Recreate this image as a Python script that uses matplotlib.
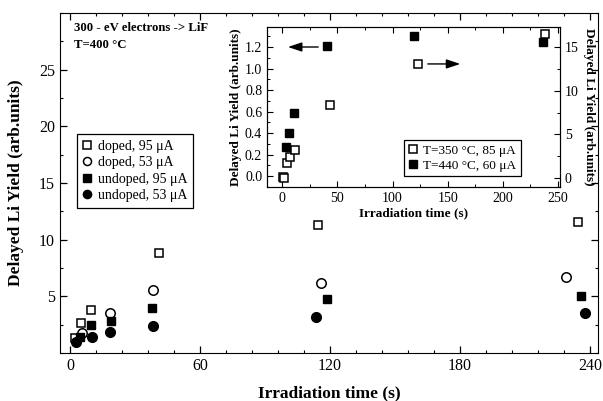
import numpy as np
import matplotlib
matplotlib.use("Agg")
import matplotlib.pyplot as plt
from matplotlib.ticker import MultipleLocator

plt.rcParams["font.family"] = ["Liberation Serif", "DejaVu Serif"]

# Main panel data (T=400 °C)
t_doped95 = [2.5, 5, 9.5, 41, 114.5, 234.5]
y_doped95 = [1.35, 2.67, 3.80, 8.85, 11.3, 11.6]
t_doped53 = [5.5, 18.5, 38.5, 116, 229]
y_doped53 = [1.74, 3.56, 5.56, 6.2, 6.68]
t_undoped95 = [4.5, 9.5, 19, 38, 118.5, 236]
y_undoped95 = [1.39, 2.47, 2.85, 3.95, 4.77, 5.06]
t_undoped53 = [3, 10, 18.5, 38.5, 113.5, 237.5]
y_undoped53 = [1.0, 1.44, 1.83, 2.38, 3.2, 3.56]

# Inset data
t_440 = [3.3, 6, 10.3, 40.5, 119, 236.7]
y_440 = [0.27, 0.40, 0.59, 1.21, 1.30, 1.25]      # left axis
t_350 = [0.3, 1.8, 4.2, 7.2, 11.2, 43.5, 123.5, 238]
y_350 = [0.15, 0.03, 1.75, 2.37, 3.2, 8.36, 13.06, 16.5]  # right axis

W, H = 603, 401
fig = plt.figure(figsize=(W / 100, H / 100), dpi=100)

def box(x0, y0, x1, y1):
    # pixel box -> figure fraction
    return [x0 / W, 1 - y1 / H, (x1 - x0) / W, (y1 - y0) / H]

ax = fig.add_axes(box(60, 13, 598, 353))
ms = 6.2
ax.plot(t_doped95, y_doped95, ls="none", marker="s", ms=ms, mfc="white", mec="k", mew=1.1, label="doped, 95 \u03bcA")
ax.plot(t_doped53, y_doped53, ls="none", marker="o", ms=ms + 0.6, mfc="white", mec="k", mew=1.1, label="doped, 53 \u03bcA")
ax.plot(t_undoped95, y_undoped95, ls="none", marker="s", ms=ms, mfc="k", mec="k", label="undoped, 95 \u03bcA")
ax.plot(t_undoped53, y_undoped53, ls="none", marker="o", ms=ms + 0.8, mfc="k", mec="k", label="undoped, 53 \u03bcA")

ax.set_xlim(-4.6, 243.7)
ax.set_ylim(0, 30)
ax.set_xticks([0, 60, 120, 180, 240])
ax.xaxis.set_minor_locator(MultipleLocator(12))
ax.set_yticks([5, 10, 15, 20, 25])
ax.yaxis.set_minor_locator(MultipleLocator(2.5))
ax.tick_params(which="both", direction="in", top=True, right=True, labelsize=11.5)
ax.tick_params(which="major", length=5, width=0.9)
ax.tick_params(which="minor", length=2.5, width=0.8)
ax.set_xlabel("Irradiation time (s)", fontsize=12.5, fontweight="bold", labelpad=8)
ax.set_ylabel("Delayed Li Yield (arb.units)", fontsize=12.5, fontweight="bold", labelpad=11)

ax.text(74 / W, 1 - 28 / H, "300 - eV electrons -> LiF", transform=fig.transFigure,
        fontsize=9.2, fontweight="bold", va="center")
ax.text(74 / W, 1 - 45 / H, "T=400 \u00b0C", transform=fig.transFigure,
        fontsize=9.2, fontweight="bold", va="center")

leg = ax.legend(loc="upper left", bbox_to_anchor=(77 / W, 1 - 134 / H),
                bbox_transform=fig.transFigure, borderaxespad=0, fontsize=10,
                handlelength=0.7, handletextpad=0.4, labelspacing=0.25,
                borderpad=0.4, fancybox=False, framealpha=1, markerscale=0.85)
leg.get_frame().set_edgecolor("k")
leg.get_frame().set_linewidth(0.9)

# Inset
ax_in = fig.add_axes(box(267, 27, 560, 187))
ax_r = ax_in.twinx()
ms_in = 5.6
l1, = ax_r.plot(t_350, y_350, ls="none", marker="s", ms=ms_in, mfc="white", mec="k", mew=1.1, label="T=350 \u00b0C, 85 \u03bcA")
l2, = ax_in.plot(t_440, y_440, ls="none", marker="s", ms=ms_in, mfc="k", mec="k", label="T=440 \u00b0C, 60 \u03bcA")

ax_in.set_xlim(-14, 252)
ax_in.set_ylim(-0.102, 1.386)
ax_r.set_ylim(-1.03, 17.29)
ax_in.set_xticks([0, 50, 100, 150, 200, 250])
ax_in.xaxis.set_minor_locator(MultipleLocator(25))
ax_in.set_yticks(np.arange(0, 1.3, 0.2))
ax_in.yaxis.set_major_formatter(plt.FormatStrFormatter("%.1f"))
ax_in.yaxis.set_minor_locator(MultipleLocator(0.1))
ax_r.set_yticks([0, 5, 10, 15])
ax_r.yaxis.set_minor_locator(MultipleLocator(2.5))
ax_in.tick_params(which="both", direction="in", top=True, labelsize=10)
ax_r.tick_params(which="both", direction="in", labelsize=10)
for a in (ax_in, ax_r):
    a.tick_params(which="major", length=4, width=0.8)
    a.tick_params(which="minor", length=2, width=0.7)
ax_in.set_xlabel("Irradiation time (s)", fontsize=9.5, fontweight="bold", labelpad=2)
ax_in.set_ylabel("Delayed Li Yield (arb.units)", fontsize=9.5, fontweight="bold", labelpad=2)
ax_r.set_ylabel("Delayed Li Yield (arb.units)", fontsize=9.5, fontweight="bold",
                rotation=-90, labelpad=12)

# arrows pointing to the axis each set belongs to
ax_in.annotate("", xy=(2.5, 1.2), xytext=(35, 1.2),
               arrowprops=dict(arrowstyle="-|>,head_length=0.6,head_width=0.2",
                               color="k", lw=1, mutation_scale=14))
ax_r.annotate("", xy=(164, 13.06), xytext=(129.5, 13.06),
              arrowprops=dict(arrowstyle="-|>,head_length=0.6,head_width=0.2",
                              color="k", lw=1, mutation_scale=14))

leg2 = ax_r.legend([l1, l2], [l1.get_label(), l2.get_label()], loc="upper left",
                   bbox_to_anchor=(404 / W, 1 - 140 / H), bbox_transform=fig.transFigure,
                   borderaxespad=0, fontsize=9.5, handlelength=0.7, handletextpad=0.4,
                   labelspacing=0.2, borderpad=0.35, fancybox=False, framealpha=1)
leg2.get_frame().set_edgecolor("k")
leg2.get_frame().set_linewidth(0.9)

fig.savefig("out.png", dpi=100)
